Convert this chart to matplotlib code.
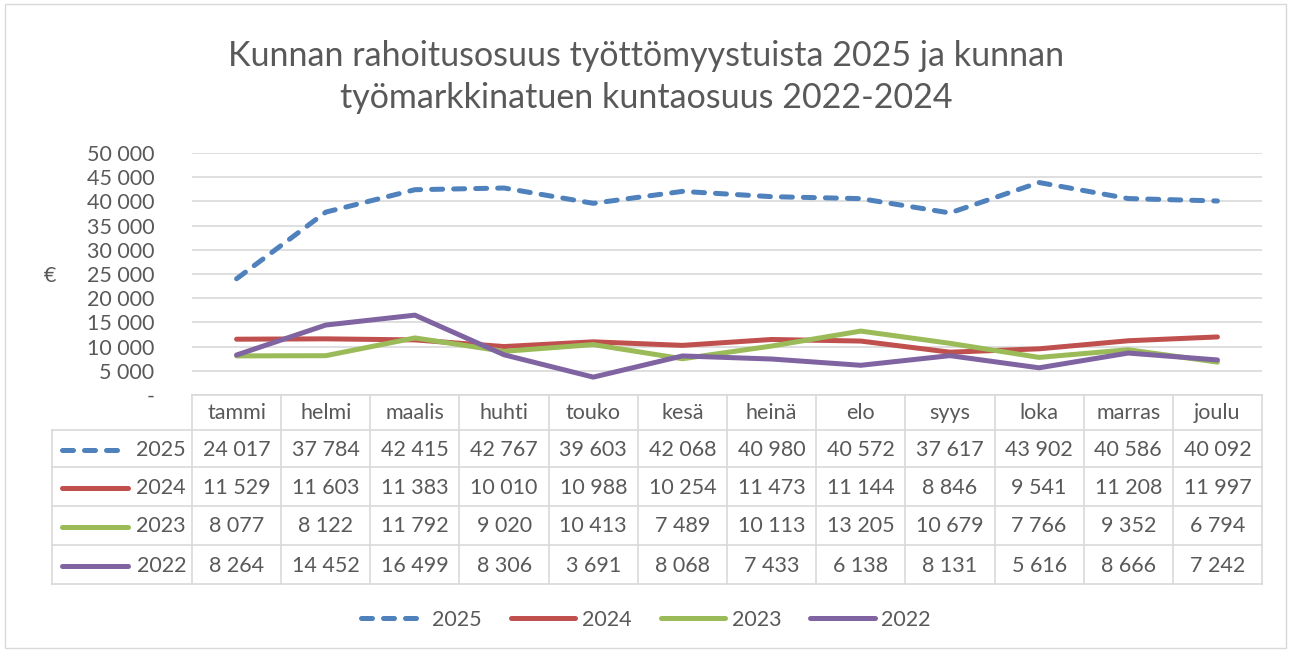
import matplotlib.pyplot as plt
import matplotlib.transforms as mtransforms
from matplotlib.patches import Rectangle
from matplotlib.lines import Line2D

plt.rcParams['font.family'] = ['Lato', 'DejaVu Sans']

kuukaudet = ["tammi", "helmi", "maalis", "huhti", "touko", "kesä",
             "heinä", "elo", "syys", "loka", "marras", "joulu"]
v2025 = [24017, 37784, 42415, 42767, 39603, 42068, 40980, 40572, 37617, 43902, 40586, 40092]
v2024 = [11529, 11603, 11383, 10010, 10988, 10254, 11473, 11144, 8846, 9541, 11208, 11997]
v2023 = [8077, 8122, 11792, 9020, 10413, 7489, 10113, 13205, 10679, 7766, 9352, 6794]
v2022 = [8264, 14452, 16499, 8306, 3691, 8068, 7433, 6138, 8131, 5616, 8666, 7242]
vuodet = ["2025", "2024", "2023", "2022"]
sarjat = [v2025, v2024, v2023, v2022]
varit = ["#4F81BD", "#C0504D", "#9BBB59", "#8064A2"]
tyylit = [(0, (2.2, 2.2)), "-", "-", "-"]

TXT = "#595959"
GRID = "#D9D9D9"
W, H = 1292, 652


def fy(px):
    return 1 - px / H


def fmt(v):
    return f"{v:,}".replace(",", " ")


fig = plt.figure(figsize=(W / 100, H / 100), dpi=100)
fig.patches.append(Rectangle((5 / W, fy(648)), 1281 / W, 648 / H - 4 / H,
                             transform=fig.transFigure, fill=False,
                             edgecolor=GRID, linewidth=1))

ax = fig.add_axes([192 / W, fy(395), (1262 - 192) / W, (395 - 153) / H])
x = list(range(len(kuukaudet)))
handles = []
for vals, lab, c, ls in zip(sarjat, vuodet, varit, tyylit):
    h, = ax.plot(x, vals, color=c, linestyle=ls, linewidth=3.6,
                 solid_capstyle='round', dash_capstyle='round', label=lab)
    handles.append(h)

ax.set_xlim(-0.5, 11.5)
ax.set_ylim(0, 50000)
ax.set_yticks(range(0, 50001, 5000))
ax.set_yticklabels(["-"] + [fmt(t) for t in range(5000, 50001, 5000)])
ax.tick_params(axis='y', length=0, pad=27, labelsize=15.5, labelcolor=TXT)
ax.set_xticks([])
ax.grid(axis='y', color=GRID, linewidth=1.2)
ax.set_axisbelow(True)
for s in ax.spines.values():
    s.set_visible(False)

fig.text(50 / W, fy(276), "€", fontsize=15.5, color=TXT, ha='center', va='center')

fig.suptitle("Kunnan rahoitusosuus työttömyystuista 2025 ja kunnan\n"
             "työmarkkinatuen kuntaosuus 2022-2024",
             y=fy(40), va='top', fontsize=24.5, color=TXT, linespacing=1.38)

# data table below the plot
tr = mtransforms.blended_transform_factory(ax.transData, fig.transFigure)
rows = [395, 430, 467, 506, 545, 584]
lw = 1.2
for i in range(len(kuukaudet) + 1):
    ax.add_line(Line2D([i - 0.5, i - 0.5], [fy(395), fy(584)], transform=tr,
                       color=GRID, lw=lw, clip_on=False))
left = ax.transData.inverted().transform((52, 0))[0]
ax.add_line(Line2D([-0.5, 11.5], [fy(395), fy(395)], transform=tr,
                   color=GRID, lw=lw, clip_on=False))
for r in rows[1:]:
    ax.add_line(Line2D([left, 11.5], [fy(r), fy(r)], transform=tr,
                       color=GRID, lw=lw, clip_on=False))
ax.add_line(Line2D([left, left], [fy(430), fy(584)], transform=tr,
                   color=GRID, lw=lw, clip_on=False))

for i, k in enumerate(kuukaudet):
    ax.text(i, fy(413), k, transform=tr, ha='center', va='center',
            fontsize=15.5, color=TXT)

for j, (vals, lab, c, ls) in enumerate(zip(sarjat, vuodet, varit, tyylit)):
    yc = fy((rows[j + 1] + rows[j + 2]) / 2 + 1)
    fig.add_artist(Line2D([62 / W, 128 / W], [yc, yc], transform=fig.transFigure,
                          color=c, linestyle=ls, linewidth=3.6,
                          solid_capstyle='round', dash_capstyle='round'))
    fig.text(186 / W, yc, lab, ha='right', va='center', fontsize=15.5, color=TXT)
    for i, v in enumerate(vals):
        ax.text(i, yc, fmt(v), transform=tr, ha='center', va='center',
                fontsize=15.5, color=TXT)

fig.legend(handles=handles, loc='center', bbox_to_anchor=(0.5, fy(620)),
           ncol=4, frameon=False, fontsize=15.5, labelcolor=TXT,
           handlelength=3.0, handletextpad=0.3, columnspacing=1.35)

fig.savefig("out.png", dpi=100)
